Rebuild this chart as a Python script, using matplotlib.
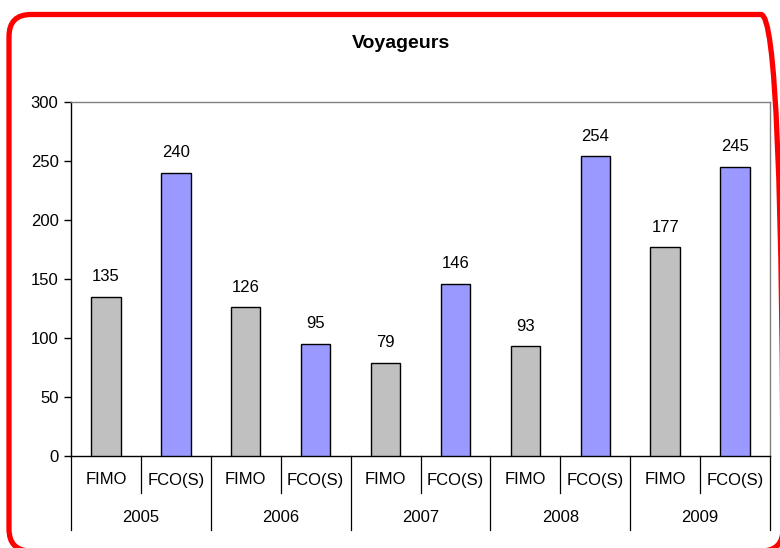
import matplotlib
matplotlib.use("Agg")
import matplotlib.pyplot as plt
from matplotlib.patches import FancyBboxPatch
from matplotlib.transforms import IdentityTransform

plt.rcParams['font.family'] = ['Liberation Sans', 'DejaVu Sans']

years = ["2005", "2006", "2007", "2008", "2009"]
series = ["FIMO", "FCO(S)"]
fimo = [135, 126, 79, 93, 177]
fco = [240, 95, 146, 254, 245]
colors = ["#C0C0C0", "#9999FF"]
yticks = [0, 50, 100, 150, 200, 250, 300]

W, H = 780, 548
fig = plt.figure(figsize=(W / 100, H / 100), dpi=100)

# rounded red frame around the whole chart (pixel units, origin bottom-left)
fx0, fx1, fy_top, fy_bot = 9, 783, 14.5, 551
frame = FancyBboxPatch((fx0, H - fy_bot), fx1 - fx0, fy_bot - fy_top,
                       boxstyle="round,pad=0,rounding_size=22",
                       transform=IdentityTransform(), fill=False,
                       edgecolor="#FF0000", linewidth=3.8, clip_on=False)
fig.patches.append(frame)

left, right, top, bottom = 71, 770, 102, 456
ax = fig.add_axes([left / W, 1 - bottom / H, (right - left) / W, (bottom - top) / H])

n = len(years) * len(series)
xs, vals, cols, labels = [], [], [], []
for i, y in enumerate(years):
    for j, s in enumerate(series):
        xs.append(i * 2 + j + 0.5)
        vals.append(fimo[i] if j == 0 else fco[i])
        cols.append(colors[j])
        labels.append(s)

ax.bar(xs, vals, width=0.42, color=cols, edgecolor="black", linewidth=1.0, zorder=3)
for x, v in zip(xs, vals):
    ax.annotate(str(v), (x, v), xytext=(0, 9), textcoords="offset points",
                ha="center", va="bottom", fontsize=12)

ax.set_xlim(0, n)
ax.set_ylim(0, 300)
ax.set_yticks(yticks)
ax.tick_params(axis="y", direction="out", length=5, width=1, labelsize=12, pad=4)
ax.set_xticks([])

for side in ("top", "right"):
    ax.spines[side].set_color("#808080")
    ax.spines[side].set_linewidth(1.0)
for side in ("left", "bottom"):
    ax.spines[side].set_color("black")
    ax.spines[side].set_linewidth(1.0)

axh = bottom - top
short = -(493 - bottom) / axh
long_ = -(530 - bottom) / axh
trans = ax.get_xaxis_transform()

# two-level category axis
for k in range(n + 1):
    y_end = long_ if k % 2 == 0 else short
    ax.plot([k, k], [0, y_end], transform=trans, color="black", lw=0.9, clip_on=False)
for x, lab in zip(xs, labels):
    ax.text(x, -(480 - bottom) / axh, lab, transform=trans, ha="center", va="center",
            fontsize=12)
for i, y in enumerate(years):
    ax.text(i * 2 + 1, -(518 - bottom) / axh, y, transform=trans, ha="center",
            va="center", fontsize=12)

fig.text(401 / W, 1 - 43 / H, "Voyageurs", ha="center", va="center",
         fontsize=14, fontweight="bold")

fig.savefig("out.png", dpi=100)
